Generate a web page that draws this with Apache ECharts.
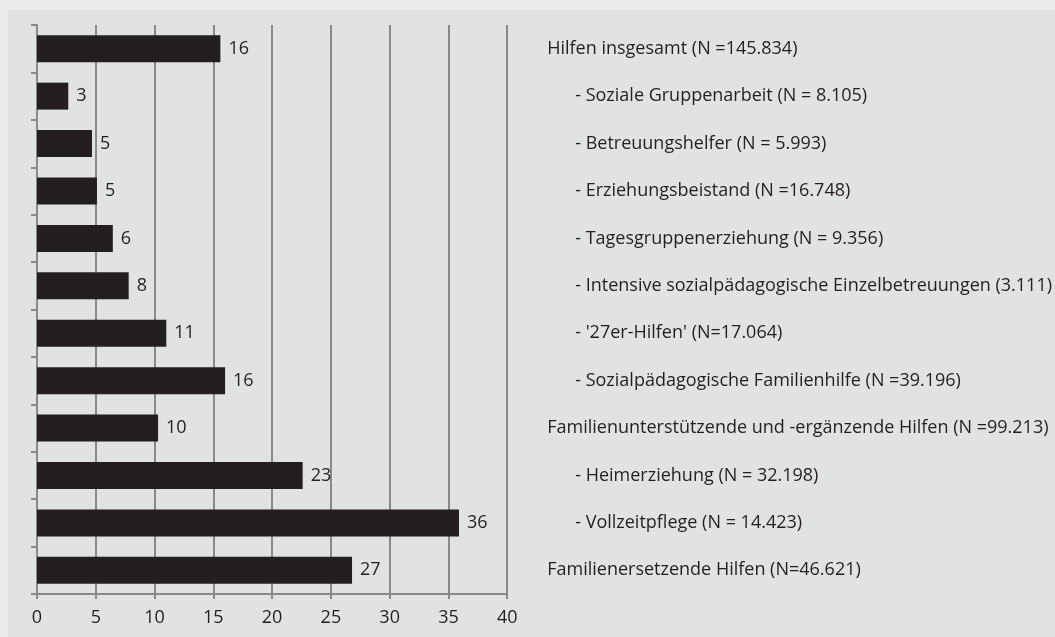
<!DOCTYPE html>
<html>
<head>
<meta charset="utf-8">
<script src="https://cdn.jsdelivr.net/npm/echarts@6/dist/echarts.min.js"></script>
<style>
  html, body { margin: 0; padding: 0; background: #ebebed; width: 1055px; height: 637px; overflow: hidden; }
  #chart { position: absolute; left: 8px; top: 10px; width: 1047px; height: 627px; }
</style>
</head>
<body>
<div id="chart"></div>
<script>
const categories = [
  "Hilfen insgesamt (N =145.834)",
  "- Soziale Gruppenarbeit (N = 8.105)",
  "- Betreuungshelfer (N = 5.993)",
  "- Erziehungsbeistand (N =16.748)",
  "- Tagesgruppenerziehung (N = 9.356)",
  "- Intensive sozialpädagogische Einzelbetreuungen (3.111)",
  "- '27er-Hilfen' (N=17.064)",
  "- Sozialpädagogische Familienhilfe (N =39.196)",
  "Familienunterstützende und -ergänzende Hilfen (N =99.213)",
  "- Heimerziehung (N = 32.198)",
  "- Vollzeitpflege (N = 14.423)",
  "Familienersetzende Hilfen (N=46.621)"
];
const values = [15.6, 2.66, 4.68, 5.1, 6.45, 7.8, 11.0, 16.0, 10.3, 22.6, 35.9, 26.8];
const valueLabels = [16, 3, 5, 5, 6, 8, 11, 16, 10, 23, 36, 27];
const xTicks = { min: 0, max: 40, interval: 5 };

const FONT = 'Open Sans';
const FS = 18;
const TXT = '#231f20';
const LINE = '#898989';

const chart = echarts.init(document.getElementById('chart'), null, { renderer: 'canvas' });
chart.setOption({
  backgroundColor: '#e1e2e4',
  animation: false,
  textStyle: { fontFamily: FONT },
  grid: { left: 29, top: 15, right: 545, bottom: 43, containLabel: false },
  xAxis: {
    type: 'value',
    min: xTicks.min, max: xTicks.max, interval: xTicks.interval,
    axisLine: { show: true, lineStyle: { color: LINE, width: 2 } },
    axisTick: { show: true, length: 5, lineStyle: { color: LINE, width: 2 } },
    splitLine: { show: true, lineStyle: { color: LINE, width: 2 } },
    axisLabel: { color: TXT, fontSize: FS, fontFamily: FONT, margin: 15 }
  },
  yAxis: [{
    type: 'category',
    data: categories,
    inverse: true,
    position: 'left',
    axisLine: { show: true, lineStyle: { color: LINE, width: 2 } },
    axisTick: { show: true, length: 6, lineStyle: { color: LINE, width: 2 } },
    axisLabel: { show: false },
    splitLine: { show: false }
  }, {
    type: 'category',
    data: categories,
    inverse: true,
    position: 'right',
    axisLine: { show: false },
    axisTick: { show: false },
    splitLine: { show: false },
    axisLabel: {
      show: true,
      margin: 40,
      align: 'left',
      color: TXT,
      fontSize: FS,
      fontFamily: FONT,
      formatter: function (v) {
        return v.charAt(0) === '-' ? '{ind|' + v + '}' : '{top|' + v + '}';
      },
      rich: {
        ind: { padding: [0, 0, 0, 28], color: TXT, fontSize: FS, fontFamily: FONT },
        top: { color: TXT, fontSize: FS, fontFamily: FONT }
      }
    }
  }],
  series: [{
    type: 'bar',
    yAxisIndex: 0,
    data: values,
    barWidth: 27,
    itemStyle: { color: '#231f20' },
    label: {
      show: true,
      position: 'right',
      distance: 8,
      color: TXT,
      fontSize: FS,
      fontFamily: FONT,
      formatter: function (p) { return String(valueLabels[p.dataIndex]); }
    }
  }]
});
</script>
</body>
</html>
